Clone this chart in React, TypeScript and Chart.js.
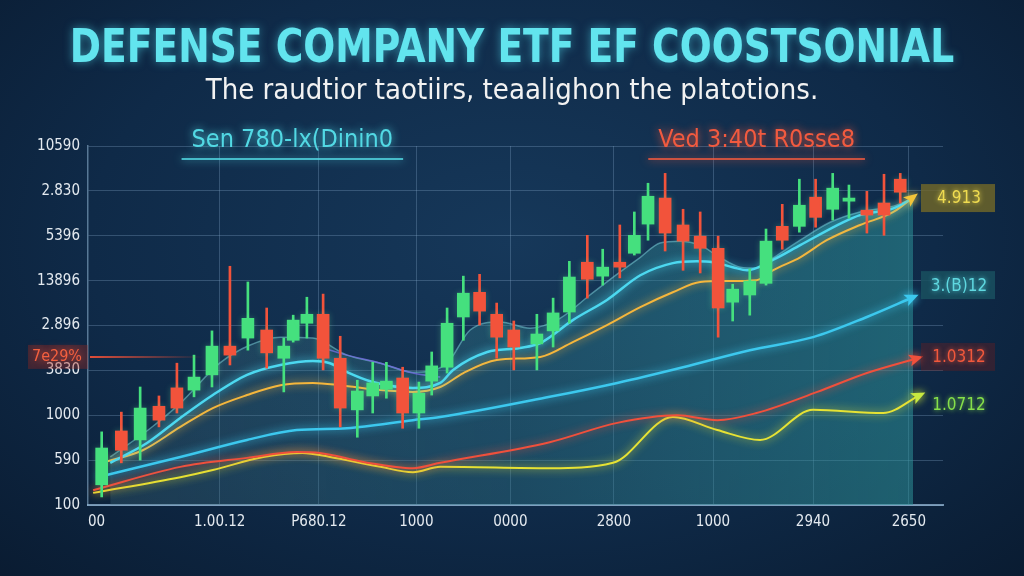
import React, { useEffect, useRef } from 'react';
import Chart from 'chart.js/auto';

// x positions are in "sessions" 0..100, prices on a 0..80 scale
const xTickValues = [1.0, 15.4, 27.0, 38.4, 49.4, 61.5, 73.1, 84.8, 96.0];
const xTickLabels = ['00', '1.00.12', 'P680.12', '1000', '0000', '2800', '1000', '2940', '2650'];
const yTickLabels = ['100', '590', '1000', '3830', '2.896', '13896', '5396', '2.830', '10590'];

const candleX = [1.6, 3.9, 6.1, 8.3, 10.4, 12.4, 14.5, 16.6, 18.7, 20.9, 22.9, 24.0, 25.6, 27.5, 29.5, 31.5, 33.3, 34.9, 36.8, 38.7, 40.2, 42.0, 43.9, 45.8, 47.8, 49.8, 52.5, 54.4, 56.3, 58.4, 60.2, 62.2, 63.9, 65.5, 67.5, 69.6, 71.6, 73.7, 75.4, 77.4, 79.3, 81.2, 83.2, 85.1, 87.1, 89.0, 91.1, 93.1, 95.0];
const candleOpen = [4.5, 16.5, 14.5, 22.0, 26.1, 25.6, 29.0, 35.4, 37.2, 39.0, 32.7, 36.7, 40.5, 42.5, 32.7, 21.2, 24.3, 25.8, 28.3, 20.5, 27.6, 30.7, 41.9, 47.4, 42.5, 39.0, 35.9, 38.8, 43.0, 54.1, 51.0, 54.1, 56.1, 62.6, 68.4, 62.4, 59.9, 57.2, 45.2, 46.8, 49.4, 62.1, 62.1, 68.6, 65.9, 67.7, 65.7, 67.3, 72.6];
const candleClose = [12.7, 12.2, 21.6, 18.9, 21.6, 28.5, 35.4, 33.4, 41.6, 33.9, 35.4, 41.2, 42.5, 32.7, 21.6, 25.4, 27.2, 27.6, 20.5, 24.9, 31.0, 40.5, 47.2, 43.2, 37.4, 35.2, 38.1, 42.8, 50.8, 50.3, 53.0, 53.0, 60.1, 68.8, 60.6, 58.8, 57.2, 43.9, 48.1, 49.9, 58.8, 59.0, 66.8, 64.1, 70.6, 68.4, 64.6, 64.6, 69.7];
const candleHigh = [16.3, 20.7, 26.3, 24.3, 31.6, 33.4, 38.8, 53.2, 49.7, 43.9, 37.2, 42.3, 46.3, 47.0, 37.6, 27.8, 31.8, 31.8, 30.7, 27.4, 34.1, 43.9, 51.0, 51.4, 45.0, 41.0, 42.5, 46.1, 54.3, 60.1, 57.0, 62.4, 65.3, 71.7, 73.9, 65.9, 65.3, 59.9, 49.2, 52.6, 61.5, 67.0, 72.6, 72.6, 73.9, 71.3, 69.9, 73.7, 73.9];
const candleLow = [1.8, 9.4, 10.0, 17.4, 20.5, 24.1, 26.3, 31.2, 34.5, 30.5, 25.2, 36.3, 37.2, 30.1, 17.4, 15.1, 20.5, 23.8, 17.1, 17.1, 24.5, 29.4, 36.7, 40.1, 32.7, 30.1, 30.1, 35.2, 40.5, 46.1, 49.0, 50.6, 55.7, 59.0, 56.6, 52.3, 51.7, 37.4, 41.0, 42.3, 49.0, 57.0, 60.8, 61.9, 63.5, 63.9, 60.6, 60.1, 67.3];

type Pt = [number, number];

const upperBand: Pt[] = [[2.6, 10.7], [7.3, 17.1], [10.8, 22.7], [15.4, 31.6], [18.9, 35.6], [22.5, 37.4], [26.3, 37.2], [30.3, 33.4], [34.2, 31.6], [38.0, 29.6], [41.8, 31.2], [44.7, 39.0], [48.2, 40.8], [51.7, 39.4], [55.2, 41.6], [58.7, 46.8], [62.2, 51.9], [64.6, 55.2], [66.9, 58.4], [69.2, 58.8], [71.6, 57.9], [73.9, 55.2], [76.3, 53.0], [78.2, 52.8], [80.1, 55.0], [83.3, 59.0], [86.8, 63.0], [90.3, 65.3], [94.2, 66.6], [96.5, 68.4]];
const signalLine: Pt[] = [[27.1, 35.2], [30.3, 33.4], [34.2, 31.6], [38.0, 29.4], [41.2, 28.5]];
const fastAverage: Pt[] = [[2.6, 9.4], [6.9, 13.8], [10.8, 19.4], [14.6, 24.5], [18.6, 29.0], [22.5, 31.2], [26.3, 32.1], [28.3, 31.6], [30.3, 29.6], [33.3, 27.4], [38.0, 26.1], [41.2, 27.2], [42.7, 30.1], [46.7, 34.1], [50.5, 35.0], [52.9, 36.1], [56.7, 41.2], [60.7, 45.7], [64.6, 51.2], [68.4, 53.9], [71.2, 54.3], [73.1, 54.1], [75.4, 53.0], [77.1, 52.3], [80.1, 54.6], [83.3, 57.9], [88.3, 63.0], [90.3, 64.6], [94.2, 66.1], [96.5, 68.4]];
const slowAverage: Pt[] = [[2.0, 9.6], [6.4, 12.2], [10.8, 17.4], [14.6, 21.6], [18.6, 24.5], [22.5, 26.7], [26.3, 27.2], [29.5, 26.7], [34.2, 25.6], [38.0, 25.2], [41.2, 26.3], [43.9, 29.4], [47.8, 32.3], [52.9, 33.0], [56.7, 36.3], [60.7, 40.1], [64.6, 44.1], [68.4, 47.4], [71.6, 49.7], [74.7, 49.9], [78.2, 50.1], [80.1, 52.3], [83.3, 55.2], [86.4, 59.0], [90.3, 62.4], [94.2, 65.3], [96.5, 68.6]];
const trendCyan: Pt[] = [[1.1, 6.2], [10.8, 10.7], [18.6, 14.5], [24.4, 16.7], [30.3, 17.1], [38.0, 18.9], [41.2, 19.6], [54.0, 24.1], [61.9, 27.2], [69.6, 30.7], [77.4, 34.5], [84.8, 37.4], [91.1, 41.9], [96.5, 46.3]];
const trendRed: Pt[] = [[0.6, 3.3], [10.8, 8.5], [18.6, 10.5], [24.4, 11.8], [27.1, 11.6], [32.2, 9.6], [38.0, 8.2], [41.2, 9.4], [54.0, 14.0], [61.9, 18.3], [68.9, 20.0], [73.6, 18.9], [78.2, 20.5], [85.3, 25.2], [91.1, 29.4], [97.0, 32.7]];
const trendYellow: Pt[] = [[0.6, 2.7], [10.8, 6.2], [14.6, 7.8], [20.5, 10.7], [25.1, 11.6], [28.3, 10.7], [34.2, 8.5], [38.0, 7.3], [41.2, 8.5], [54.0, 8.2], [61.4, 9.4], [68.4, 19.6], [73.6, 16.7], [78.6, 14.5], [84.8, 21.2], [93.0, 20.5], [97.3, 24.5]];

const headerTexts = ['Sen 780-lx(Dinin0', 'Ved 3:40t R0sse8'];
const headerAt = [23.9, 78.2];
const markerText = '7e29%';
const markerValue = 33.0;
const endLabelTexts = ['4.913', '3.(B)12', '1.0312', '1.0712'];
const endLabelValues = [68.4, 49.0, 33.0, 22.3];

const UP = '#45e07e';
const DOWN = '#f2533b';
const GRID = 'rgba(130,165,200,0.32)';
const NARROW = '"Liberation Sans Narrow", "DejaVu Sans Condensed", sans-serif';
const COND = '"DejaVu Sans Condensed", "Liberation Sans Narrow", sans-serif';

const toXY = (pts: Pt[]) => pts.map(([x, y]) => ({ x, y }));

const glowPlugin = {
  id: 'glow',
  beforeDatasetDraw(chart: any, args: any) {
    const ds = chart.data.datasets[args.index];
    if (ds.glow) {
      chart.ctx.save();
      chart.ctx.shadowColor = ds.glow;
      chart.ctx.shadowBlur = ds.glowBlur || 9;
    }
  },
  afterDatasetDraw(chart: any, args: any) {
    const ds = chart.data.datasets[args.index];
    if (ds.glow) chart.ctx.restore();
  },
};

const arrowPlugin = {
  id: 'arrows',
  afterDatasetsDraw(chart: any) {
    const ctx = chart.ctx;
    chart.data.datasets.forEach((ds: any, i: number) => {
      if (!ds.arrow) return;
      const pts = chart.getDatasetMeta(i).data;
      const a = pts[pts.length - 2];
      const b = pts[pts.length - 1];
      const ang = Math.atan2(b.y - a.y, b.x - a.x);
      ctx.save();
      ctx.translate(b.x, b.y);
      ctx.rotate(ang);
      ctx.shadowColor = ds.arrow;
      ctx.shadowBlur = 8;
      ctx.fillStyle = ds.arrow;
      ctx.beginPath();
      ctx.moveTo(6, 0);
      ctx.lineTo(-8, -6);
      ctx.lineTo(-5, 0);
      ctx.lineTo(-8, 6);
      ctx.closePath();
      ctx.fill();
      ctx.restore();
    });
  },
};

const annotationPlugin = {
  id: 'annotations',
  afterDraw(chart: any) {
    const ctx = chart.ctx;
    const { chartArea } = chart;
    const xs = chart.scales.x;
    const ys = chart.scales.y;

    // header captions with underline
    const headerColors = ['#52d9e4', '#f25a3f'];
    headerTexts.forEach((t, i) => {
      const cx = xs.getPixelForValue(headerAt[i]);
      ctx.save();
      ctx.font = `25px ${NARROW}`;
      ctx.textAlign = 'center';
      ctx.textBaseline = 'middle';
      ctx.shadowColor = headerColors[i];
      ctx.shadowBlur = 8;
      ctx.fillStyle = headerColors[i];
      ctx.fillText(t, cx, chartArea.top - 6, 225);
      const w = Math.min(ctx.measureText(t).width, 225) + 20;
      ctx.strokeStyle = headerColors[i];
      ctx.globalAlpha = 0.8;
      ctx.lineWidth = 2;
      ctx.beginPath();
      ctx.moveTo(cx - w / 2, chartArea.top + 13);
      ctx.lineTo(cx + w / 2, chartArea.top + 13);
      ctx.stroke();
      ctx.restore();
    });

    // red level marker on the left
    const my = ys.getPixelForValue(markerValue);
    ctx.save();
    ctx.fillStyle = 'rgba(160,40,30,0.35)';
    ctx.fillRect(chartArea.left - 60, my - 12, 60, 24);
    const lg = ctx.createLinearGradient(chartArea.left, 0, chartArea.left + 115, 0);
    lg.addColorStop(0, 'rgba(240,80,55,0.95)');
    lg.addColorStop(1, 'rgba(240,80,55,0)');
    ctx.strokeStyle = lg;
    ctx.lineWidth = 2;
    ctx.beginPath();
    ctx.moveTo(chartArea.left + 2, my);
    ctx.lineTo(chartArea.left + 115, my);
    ctx.stroke();
    ctx.font = `16px ${COND}`;
    ctx.textAlign = 'center';
    ctx.textBaseline = 'middle';
    ctx.shadowColor = '#f2533b';
    ctx.shadowBlur = 8;
    ctx.fillStyle = '#f4603f';
    ctx.fillText(markerText, chartArea.left - 31, my);
    ctx.restore();

    // value tags at the right end of the lines
    const tagText = ['#f0dc50', '#5fd8e0', '#f2583c', '#86e04a'];
    const tagBg = ['rgba(115,105,40,0.8)', 'rgba(25,80,95,0.85)', 'rgba(120,30,25,0.35)', 'rgba(0,0,0,0)'];
    const bx = chartArea.right - 22;
    endLabelTexts.forEach((t, i) => {
      const y = ys.getPixelForValue(endLabelValues[i]);
      ctx.save();
      ctx.fillStyle = tagBg[i];
      ctx.fillRect(bx, y - 14, 74, 28);
      ctx.font = `17px ${COND}`;
      ctx.textAlign = 'center';
      ctx.textBaseline = 'middle';
      ctx.shadowColor = tagText[i];
      ctx.shadowBlur = 5;
      ctx.fillStyle = tagText[i];
      ctx.fillText(t, bx + 38, y + 1);
      ctx.restore();
    });
  },
};

export default function App() {
  const canvasRef = useRef<HTMLCanvasElement>(null);

  useEffect(() => {
    document.body.style.margin = '0';
    const ctx = canvasRef.current?.getContext('2d');
    if (!ctx) return;

    const up = candleX.map((_, i) => candleClose[i] >= candleOpen[i]);
    const candleColors = up.map((u) => (u ? UP : DOWN));

    const lineBase = {
      type: 'line' as const,
      pointRadius: 0,
      fill: false,
      cubicInterpolationMode: 'monotone' as const,
    };

    const chart = new Chart(ctx, {
      type: 'bar',
      data: {
        datasets: [
          {
            ...lineBase,
            data: toXY(upperBand),
            borderColor: 'rgba(130,215,225,0.5)',
            borderWidth: 1.5,
            fill: 'origin',
            backgroundColor: (c: any) => {
              const area = c.chart.chartArea;
              if (!area) return 'rgba(45,130,140,0.4)';
              const g = c.chart.ctx.createLinearGradient(area.left, 0, area.right, 0);
              g.addColorStop(0, 'rgba(70,115,130,0.28)');
              g.addColorStop(0.5, 'rgba(50,125,140,0.38)');
              g.addColorStop(1, 'rgba(45,150,155,0.55)');
              return g;
            },
            order: 10,
          },
          { ...lineBase, data: toXY(signalLine), borderColor: 'rgba(120,110,230,0.75)', borderWidth: 1.5, order: 9 },
          { ...lineBase, data: toXY(trendYellow), borderColor: '#e6e234', borderWidth: 2, glow: '#e6e234', arrow: '#c8e840', order: 8 },
          { ...lineBase, data: toXY(trendRed), borderColor: '#f0503c', borderWidth: 2, glow: '#f0503c', arrow: '#f0503c', order: 7 },
          { ...lineBase, data: toXY(trendCyan), borderColor: '#3cc8ee', borderWidth: 2.5, glow: '#3cc8ee', arrow: '#3cc8ee', order: 6 },
          { ...lineBase, data: toXY(slowAverage), borderColor: '#f5b63c', borderWidth: 2, glow: '#f5b63c', arrow: '#f2c43a', order: 5 },
          { ...lineBase, data: toXY(fastAverage), borderColor: '#4cd8f0', borderWidth: 2.5, glow: '#4cd8f0', order: 4 },
          {
            type: 'bar',
            data: candleX.map((x, i) => ({ x, y: [candleLow[i], candleHigh[i]] })),
            backgroundColor: candleColors,
            barThickness: 2,
            grouped: false,
            order: 2,
          },
          {
            type: 'bar',
            data: candleX.map((x, i) => ({ x, y: [candleOpen[i], candleClose[i]] })),
            backgroundColor: candleColors,
            barThickness: 12,
            grouped: false,
            glow: 'rgba(120,255,170,0.25)',
            glowBlur: 6,
            order: 1,
          },
        ] as any,
      },
      options: {
        animation: false,
        responsive: true,
        maintainAspectRatio: false,
        layout: { padding: { top: 146, right: 81, left: 0, bottom: 0 } },
        plugins: { legend: { display: false }, tooltip: { enabled: false } },
        scales: {
          x: {
            type: 'linear',
            min: 0,
            max: 100,
            offset: false,
            afterBuildTicks: (s: any) => {
              s.ticks = xTickValues.map((v) => ({ value: v }));
            },
            afterFit: (s: any) => {
              s.height = 71;
            },
            ticks: {
              autoSkip: false,
              maxRotation: 0,
              padding: 8,
              color: '#e4eaf0',
              font: { family: COND, size: 15 },
              callback: (_v: any, i: number) => xTickLabels[i],
            },
            grid: {
              offset: false,
              drawTicks: false,
              color: (c: any) => (c.index === 0 ? 'rgba(0,0,0,0)' : GRID),
            },
            border: { color: 'rgba(160,195,225,0.7)', width: 2 },
          },
          y: {
            min: 0,
            max: 80,
            afterFit: (s: any) => {
              s.width = 88;
            },
            ticks: {
              stepSize: 10,
              padding: 8,
              color: '#e4eaf0',
              font: { family: COND, size: 15 },
              callback: (_v: any, i: number) => yTickLabels[i],
            },
            grid: { color: GRID, drawTicks: false },
            border: { color: 'rgba(150,185,215,0.55)', width: 1.5 },
          },
        },
      } as any,
      plugins: [glowPlugin, arrowPlugin, annotationPlugin],
    });

    return () => chart.destroy();
  }, []);

  return (
    <div
      style={{
        position: 'fixed',
        left: 0,
        top: 0,
        width: 1024,
        height: 576,
        overflow: 'hidden',
        background: 'radial-gradient(ellipse 75% 85% at 50% 42%, #16385a 0%, #0f2a48 55%, #091a2f 100%)',
      }}
    >
      <div
        style={{
          position: 'absolute',
          top: 22,
          left: 0,
          width: 1024,
          textAlign: 'center',
          font: `bold 47px/47px ${NARROW}`,
          color: '#62e4ee',
          textShadow: '0 0 10px rgba(80,220,240,0.55)',
          whiteSpace: 'nowrap',
          transform: 'scaleX(0.89)',
          transformOrigin: '512px 0',
        }}
      >
        DEFENSE COMPANY ETF EF COOSTSONIAL
      </div>
      <div
        style={{
          position: 'absolute',
          top: 75,
          left: 0,
          width: 1024,
          textAlign: 'center',
          font: `29px/29px ${NARROW}`,
          color: '#f2f2f2',
          whiteSpace: 'nowrap',
        }}
      >
        The raudtior taotiirs, teaalighon the platotions.
      </div>
      <div style={{ position: 'absolute', left: 0, top: 0, width: 1024, height: 576 }}>
        <canvas ref={canvasRef}></canvas>
      </div>
    </div>
  );
}
